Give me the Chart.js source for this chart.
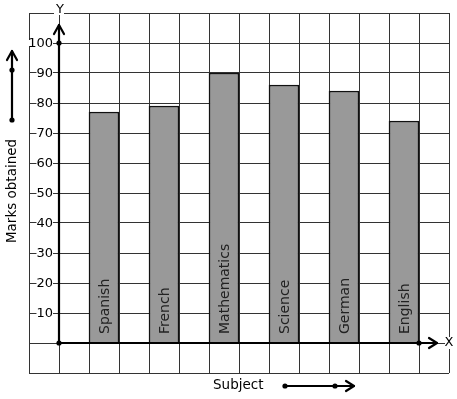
<!DOCTYPE html>
<html><head><meta charset="utf-8">
<script src="https://cdn.jsdelivr.net/npm/chart.js@4.4.0/dist/chart.umd.min.js"></script>
<style>html,body{margin:0;padding:0;background:#fff}#wrap{width:457px;height:399px}</style>
</head><body><div id="wrap"><canvas id="c" width="457" height="399"></canvas></div>
<script>
const subjects = ["Spanish", "French", "Mathematics", "Science", "German", "English"];
const marks = [77, 79, 90, 86, 84, 74];
const positions = [1.5, 3.5, 5.5, 7.5, 9.5, 11.5];
const yTicks = [10, 20, 30, 40, 50, 60, 70, 80, 90, 100];
const xTitle = "Subject";
const yTitle = "Marks obtained";

const FONT = '"DejaVu Sans", sans-serif';

function dot(ctx, x, y, r) { ctx.beginPath(); ctx.arc(x, y, r, 0, Math.PI * 2); ctx.fill(); }

const deco = {
  id: 'deco',
  afterDatasetsDraw(chart) {
    const ctx = chart.ctx, xs = chart.scales.x, ys = chart.scales.y;
    const x0 = xs.getPixelForValue(0), y0 = ys.getPixelForValue(0);
    ctx.save();
    ctx.strokeStyle = '#000'; ctx.fillStyle = '#000'; ctx.lineWidth = 2.2; ctx.lineCap = 'round'; ctx.lineJoin = 'round';
    // y axis
    const yTop = ys.getPixelForValue(106);
    ctx.beginPath(); ctx.moveTo(x0, y0); ctx.lineTo(x0, yTop); ctx.stroke();
    ctx.beginPath(); ctx.moveTo(x0 - 5, yTop + 9); ctx.lineTo(x0, yTop); ctx.lineTo(x0 + 5, yTop + 9); ctx.stroke();
    dot(ctx, x0, ys.getPixelForValue(100), 2.6); dot(ctx, x0, y0, 2.6);
    // x axis
    const xEnd = xs.getPixelForValue(12.6);
    ctx.beginPath(); ctx.moveTo(x0, y0); ctx.lineTo(xEnd, y0); ctx.stroke();
    ctx.beginPath(); ctx.moveTo(xEnd - 8, y0 - 5); ctx.lineTo(xEnd, y0); ctx.lineTo(xEnd - 8, y0 + 5); ctx.stroke();
    dot(ctx, xs.getPixelForValue(12), y0, 2.6);
    // tick labels with white background
    ctx.font = '13px ' + FONT; ctx.textAlign = 'right'; ctx.textBaseline = 'middle';
    yTicks.forEach(v => {
      const py = ys.getPixelForValue(v);
      const t = String(v), w = ctx.measureText(t).width;
      ctx.fillStyle = '#fff'; ctx.fillRect(x0 - 6 - w, py - 3, w, 6);
      ctx.fillStyle = '#000'; ctx.fillText(t, x0 - 6, py + 0.5);
    });
    // axis letters
    ctx.font = '13px ' + FONT; ctx.textAlign = 'center';
    const yl = ys.getPixelForValue(110);
    ctx.fillStyle = '#fff'; ctx.fillRect(x0 - 5, yl - 2, 10, 4);
    ctx.fillStyle = '#000'; ctx.fillText('Y', x0 + 1, yl - 3);
    const xr = xs.getPixelForValue(13);
    ctx.fillStyle = '#fff'; ctx.fillRect(xr - 4, y0 - 6, 8, 12);
    ctx.fillStyle = '#000'; ctx.fillText('X', xr, y0);
    // bar labels
    const meta = chart.getDatasetMeta(0);
    ctx.font = '14px ' + FONT; ctx.fillStyle = '#222'; ctx.textAlign = 'left'; ctx.textBaseline = 'alphabetic';
    meta.data.forEach((bar, i) => {
      ctx.save(); ctx.translate(bar.x + 5, y0 - 9); ctx.rotate(-Math.PI / 2);
      ctx.fillText(subjects[i], 0, 0); ctx.restore();
    });
    // titles
    ctx.fillStyle = '#000'; ctx.font = '13.5px ' + FONT; ctx.textBaseline = 'middle';
    ctx.save(); ctx.translate(12, 191); ctx.rotate(-Math.PI / 2); ctx.textAlign = 'center';
    ctx.fillText(yTitle, 0, 0); ctx.restore();
    ctx.textAlign = 'left'; ctx.fillText(xTitle, 213, 385);
    // left arrow
    ctx.lineWidth = 2.2;
    ctx.beginPath(); ctx.moveTo(12, 120); ctx.lineTo(12, 51); ctx.stroke();
    ctx.beginPath(); ctx.moveTo(7, 60); ctx.lineTo(12, 51); ctx.lineTo(17, 60); ctx.stroke();
    dot(ctx, 12, 120, 2.6); dot(ctx, 12, 70, 2.6);
    // bottom arrow
    ctx.beginPath(); ctx.moveTo(285, 386); ctx.lineTo(354, 386); ctx.stroke();
    ctx.beginPath(); ctx.moveTo(346, 381); ctx.lineTo(354, 386); ctx.lineTo(346, 391); ctx.stroke();
    dot(ctx, 285, 386, 2.6); dot(ctx, 335, 386, 2.6);
    ctx.restore();
  }
};

new Chart(document.getElementById('c'), {
  type: 'bar',
  data: {
    datasets: [{
      data: positions.map((p, i) => ({ x: p, y: marks[i] })),
      backgroundColor: '#999999',
      borderColor: '#111',
      borderWidth: 1.5,
      borderSkipped: 'bottom',
      barPercentage: 1,
      categoryPercentage: 1
    }]
  },
  options: {
    responsive: false,
    animation: false,
    events: [],
    layout: { padding: { left: 29, top: 13, right: 8, bottom: 26 } },
    plugins: { legend: { display: false }, tooltip: { enabled: false } },
    scales: {
      x: {
        type: 'linear', min: -1, max: 13, offset: false,
        ticks: { display: false, stepSize: 1 },
        grid: { color: '#333', lineWidth: 1, drawTicks: false, offset: false },
        border: { display: false }
      },
      y: {
        min: -10, max: 110,
        ticks: { display: false, stepSize: 10 },
        grid: { color: '#333', lineWidth: 1, drawTicks: false },
        border: { display: false }
      }
    }
  },
  plugins: [deco]
});
</script></body></html>
